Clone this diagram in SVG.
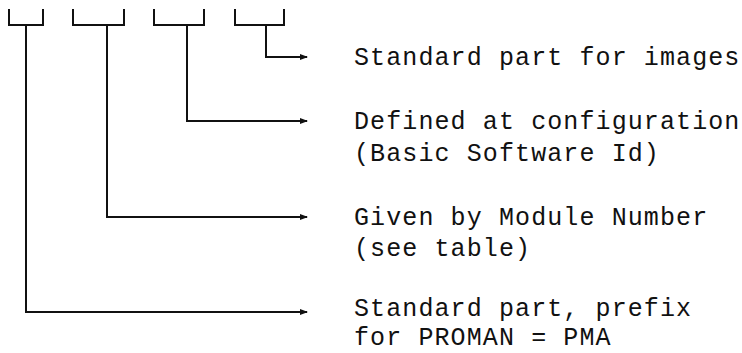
<svg xmlns="http://www.w3.org/2000/svg" width="742" height="353" viewBox="0 0 742 353">
<defs>
<style>
.ln{fill:none;stroke:#111;stroke-width:2;}
.t{font-family:"Liberation Mono","Courier New",monospace;font-size:25px;letter-spacing:1.1px;fill:#111;}
</style>
<marker id="ah" markerWidth="8" markerHeight="6" refX="7" refY="3" orient="auto" markerUnits="userSpaceOnUse">
<path d="M0,0 L8,3 L0,6 Z" fill="#111"/>
</marker>
</defs>
<rect width="742" height="353" fill="#fff"/>
<g id="connectors">
<path class="ln" d="M9,9 V25 H43 V9"/>
<path class="ln" d="M73,9 V25 H124 V9"/>
<path class="ln" d="M154,9 V25 H204 V9"/>
<path class="ln" d="M235,9 V25 H284 V9"/>
<path class="ln" d="M266,25 V57 H307" marker-end="url(#ah)"/>
<path class="ln" d="M187,25 V121 H307" marker-end="url(#ah)"/>
<path class="ln" d="M107,25 V217 H307" marker-end="url(#ah)"/>
<path class="ln" d="M26,25 V312 H307" marker-end="url(#ah)"/>
</g>
<g id="n-images"><text class="t" x="354" y="65">Standard part for images</text></g>
<g id="n-config"><text class="t" x="354" y="129">Defined at configuration</text><text class="t" x="354" y="161">(Basic Software Id)</text></g>
<g id="n-module"><text class="t" x="354" y="225">Given by Module Number</text><text class="t" x="354" y="256">(see table)</text></g>
<g id="n-prefix"><text class="t" x="354" y="316">Standard part, prefix</text><text class="t" x="354" y="345">for PROMAN = PMA</text></g>
</svg>
